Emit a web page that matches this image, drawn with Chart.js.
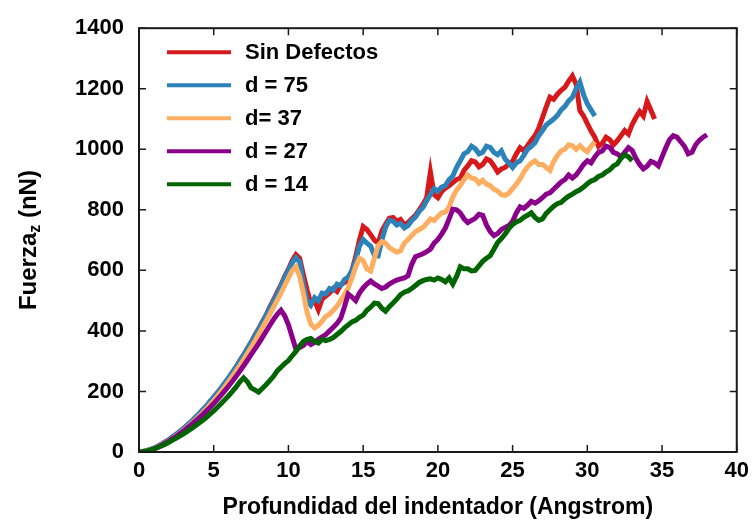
<!DOCTYPE html>
<html>
<head>
<meta charset="utf-8">
<script src="https://cdn.jsdelivr.net/npm/chart.js@4/dist/chart.umd.min.js"></script>
<style>
  html, body { margin: 0; padding: 0; background: #fff; }
</style>
</head>
<body>
<canvas id="forceChart" width="755" height="529"></canvas>
<script>
// =========================
// DATA (step 0.25 Angstrom)
// =========================
const depth = [
  0, 0.25, 0.5, 0.75, 1, 1.25, 1.5, 1.75, 2, 2.25, 2.5, 2.75, 3, 3.25, 3.5, 3.75, 4, 4.25, 4.5, 4.75,
  5, 5.25, 5.5, 5.75, 6, 6.25, 6.5, 6.75, 7, 7.25, 7.5, 7.75, 8, 8.25, 8.5, 8.75, 9, 9.25, 9.5, 9.75,
  10, 10.25, 10.5, 10.75, 11, 11.25, 11.5, 11.75, 12, 12.25, 12.5, 12.75, 13, 13.25, 13.5, 13.75, 14, 14.25, 14.5, 14.75,
  15, 15.25, 15.5, 15.75, 16, 16.25, 16.5, 16.75, 17, 17.25, 17.5, 17.75, 18, 18.25, 18.5, 18.75, 19, 19.25, 19.5, 19.75,
  20, 20.25, 20.5, 20.75, 21, 21.25, 21.5, 21.75, 22, 22.25, 22.5, 22.75, 23, 23.25, 23.5, 23.75, 24, 24.25, 24.5, 24.75,
  25, 25.25, 25.5, 25.75, 26, 26.25, 26.5, 26.75, 27, 27.25, 27.5, 27.75, 28, 28.25, 28.5, 28.75, 29, 29.25, 29.5, 29.75,
  30, 30.25, 30.5, 30.75, 31, 31.25, 31.5, 31.75, 32, 32.25, 32.5, 32.75, 33, 33.25, 33.5, 33.75, 34, 34.25, 34.5, 34.75,
  35, 35.25, 35.5, 35.75, 36, 36.25, 36.5, 36.75, 37, 37.25, 37.5, 37.75, 38
];

const seriesLabels = ["Sin Defectos", "d = 75", "d= 37", "d = 27", "d = 14"];
const seriesColors = ["#d7191c", "#2b83ba", "#fdae61", "#8b008b", "#006400"];

const sinDefectos = [
  0, 1, 4, 8, 12, 19, 25, 33, 40, 50, 58, 69, 78, 90, 100, 113, 124, 138, 150, 166,
  180, 196, 210, 228, 244, 263, 280, 302, 320, 342, 362, 386, 406, 430, 452, 479, 502, 528, 552, 580,
  604, 632, 652, 640, 585, 535, 490, 500, 470, 505, 515, 525, 540, 530, 552, 560, 568, 600, 645, 700,
  745, 735, 718, 700, 690, 730, 752, 772, 775, 762, 768, 750, 758, 770, 782, 800, 818, 840, 925, 850,
  840, 860, 872, 880, 890, 900, 905, 930, 945, 962, 958, 942, 950, 968, 962, 945, 925, 935, 940, 952,
  960, 985, 1005, 995, 1012, 1030, 1045, 1070, 1105, 1140, 1172, 1165, 1182, 1195, 1205, 1225, 1242, 1215, 1128, 1110,
  1085, 1060, 1040, 1010, 1020, 1040, 1032, 1015, 1028, 1045, 1062, 1050, 1082, 1105, 1125, 1110, 1158, 1130, 1100
];
const d75 = [
  0, 2, 5, 9, 13, 19, 26, 33, 41, 50, 59, 69, 79, 90, 101, 113, 126, 139, 152, 167,
  182, 196, 212, 229, 246, 264, 282, 301, 321, 341, 362, 384, 405, 428, 450, 475, 498, 523, 548, 575,
  600, 625, 642, 628, 555, 500, 485, 510, 500, 525, 522, 540, 535, 555, 550, 570, 578, 600, 632, 680,
  702, 690, 680, 650, 648, 700, 742, 765, 762, 750, 755, 740, 748, 765, 776, 795, 808, 830, 850, 870,
  862, 875, 880, 900, 912, 940, 962, 985, 992, 1010, 1002, 985, 990, 1010, 1006, 990, 982, 995, 968, 955,
  940, 955, 962, 980, 1000, 1010, 1022, 1045, 1062, 1080, 1090, 1100, 1112, 1130, 1142, 1160, 1172, 1200, 1222, 1180,
  1150, 1130, 1110
];
const d37 = [
  0, 2, 4, 7, 11, 17, 23, 30, 37, 45, 54, 63, 73, 83, 94, 105, 117, 129, 142, 156,
  170, 185, 200, 216, 233, 250, 268, 286, 305, 325, 345, 366, 388, 410, 432, 455, 478, 502, 525, 550,
  575, 600, 612, 580, 525, 460, 422, 410, 418, 432, 448, 455, 468, 482, 500, 520, 542, 575, 612, 640,
  632, 605, 598, 640, 682, 695, 690, 675, 668, 660, 665, 690, 702, 715, 728, 735, 742, 755, 770, 765,
  778, 790, 792, 810, 842, 865, 880, 900, 915, 905, 902, 888, 898, 885, 880, 868, 862, 850, 848, 855,
  870, 885, 902, 925, 942, 955, 962, 950, 950, 940, 930, 960, 980, 995, 1000, 1015, 1012, 1000, 1012, 1000,
  992, 1010, 1025
];
const d27 = [
  0, 1, 2, 6, 10, 16, 22, 29, 36, 44, 52, 61, 70, 80, 90, 101, 112, 123, 135, 147,
  160, 174, 188, 203, 218, 234, 250, 267, 285, 303, 322, 340, 358, 378, 398, 418, 438, 455, 468, 450,
  420, 380, 340, 345, 352, 365, 355, 362, 372, 380, 388, 400, 412, 425, 442, 480, 522, 512, 500, 525,
  542, 555, 565, 555, 548, 540, 545, 555, 562, 568, 572, 575, 582, 620, 645, 650, 655, 662, 670, 690,
  702, 720, 740, 770, 802, 800, 790, 770, 758, 765, 772, 785, 782, 750, 728, 715, 722, 735, 742, 748,
  762, 790, 810, 805, 815, 828, 822, 830, 840, 852, 856, 868, 880, 892, 900, 915, 905, 915, 932, 950,
  962, 955, 975, 990, 995, 1010, 1006, 990, 985, 975, 990, 1005, 996, 970, 950, 935, 944, 960, 955, 945,
  975, 1005, 1032, 1045, 1040, 1025, 1010, 985, 990, 1015, 1030, 1040, 1048
];
const d14 = [
  0, 1, 3, 6, 10, 15, 20, 26, 32, 39, 46, 53, 61, 69, 77, 86, 95, 104, 114, 125,
  136, 148, 160, 173, 186, 200, 215, 232, 245, 232, 212, 205, 198, 210, 222, 236, 250, 268, 280, 292,
  302, 318, 332, 350, 365, 372, 375, 365, 360, 372, 368, 372, 378, 388, 398, 410, 420, 430, 435, 445,
  452, 468, 478, 492, 490, 475, 465, 480, 492, 505, 520, 528, 532, 540, 550, 560, 566, 570, 572, 568,
  575, 570, 562, 575, 555, 580, 612, 605, 605, 598, 600, 615, 630, 640, 648, 670, 692, 705, 720, 738,
  752, 760, 765, 775, 782, 790, 775, 765, 770, 788, 800, 812, 820, 825, 836, 845, 852, 860, 866, 875,
  886, 895, 900, 910, 915, 925, 932, 945, 952, 970, 982, 975, 962
];

const xTicks = [0, 5, 10, 15, 20, 25, 30, 35, 40];
const yTicks = [0, 200, 400, 600, 800, 1000, 1200, 1400];

const allSeries = [sinDefectos, d75, d37, d27, d14];

// =========================
// BUILD DATASETS
// =========================
function toPoints(values) {
  return values.map((v, i) => ({ x: depth[i], y: v }));
}

const datasets = allSeries.map((values, i) => ({
  label: seriesLabels[i],
  data: toPoints(values),
  borderColor: seriesColors[i],
  backgroundColor: seriesColors[i],
  borderWidth: 5,
  pointRadius: 0,
  tension: 0,
  fill: false,
  order: allSeries.length - i   // later series drawn on top
}));

// =========================
// PLUGINS
// =========================
const FONT = "'Liberation Sans', Arial, sans-serif";

// box + inward ticks on all four sides
const framePlugin = {
  id: "frame",
  afterDatasetsDraw(chart) {
    const { ctx, chartArea: a, scales: { x, y } } = chart;
    ctx.save();
    ctx.strokeStyle = "#1a1a1a";
    ctx.lineWidth = 1.5;
    ctx.beginPath();
    xTicks.forEach(t => {
      const px = x.getPixelForValue(t);
      ctx.moveTo(px, a.bottom); ctx.lineTo(px, a.bottom - 7);
      ctx.moveTo(px, a.top); ctx.lineTo(px, a.top + 7);
    });
    yTicks.forEach(t => {
      const py = y.getPixelForValue(t);
      ctx.moveTo(a.left, py); ctx.lineTo(a.left + 7, py);
      ctx.moveTo(a.right, py); ctx.lineTo(a.right - 7, py);
    });
    ctx.stroke();
    ctx.lineWidth = 2;
    ctx.strokeRect(a.left, a.top, a.right - a.left, a.bottom - a.top);
    ctx.restore();
  }
};

// legend in the top-left corner of the plot
const legendPlugin = {
  id: "cornerLegend",
  afterDraw(chart) {
    const { ctx, chartArea: a } = chart;
    ctx.save();
    ctx.font = "bold 22px " + FONT;
    ctx.textBaseline = "middle";
    ctx.fillStyle = "#000";
    chart.data.datasets.forEach((ds, i) => {
      const rowY = a.top + 24 + i * 33;
      ctx.strokeStyle = ds.borderColor;
      ctx.lineWidth = 4;
      ctx.beginPath();
      ctx.moveTo(a.left + 28, rowY);
      ctx.lineTo(a.left + 92, rowY);
      ctx.stroke();
      ctx.fillText(ds.label, a.left + 106, rowY + 1);
    });
    ctx.restore();
  }
};

// y axis title with subscript z
const yTitlePlugin = {
  id: "yTitle",
  afterDraw(chart) {
    const { ctx, chartArea: a } = chart;
    const big = "bold 24px " + FONT;
    const small = "bold 16px " + FONT;
    ctx.save();
    ctx.font = big;
    const w1 = ctx.measureText("Fuerza").width;
    const w3 = ctx.measureText(" (nN)").width;
    ctx.font = small;
    const w2 = ctx.measureText("z").width;
    const total = w1 + w2 + w3;
    ctx.translate(29, (a.top + a.bottom) / 2);
    ctx.rotate(-Math.PI / 2);
    ctx.fillStyle = "#000";
    ctx.textBaseline = "middle";
    let cx = -total / 2;
    ctx.font = big;
    ctx.fillText("Fuerza", cx, 0);
    cx += w1;
    ctx.font = small;
    ctx.fillText("z", cx, 7);
    cx += w2;
    ctx.font = big;
    ctx.fillText(" (nN)", cx, 0);
    ctx.restore();
  }
};

// =========================
// RENDER CHART
// =========================
const ctx = document.getElementById("forceChart");

new Chart(ctx, {
  type: "line",
  data: { datasets },
  options: {
    responsive: false,
    animation: false,
    devicePixelRatio: 1,
    layout: { padding: { top: 18, right: 17, left: 0, bottom: 0 } },
    plugins: {
      legend: { display: false },
      tooltip: { enabled: false }
    },
    scales: {
      x: {
        type: "linear",
        min: 0,
        max: 40,
        afterFit: s => { s.height = 77; },
        afterBuildTicks: s => { s.ticks = xTicks.map(v => ({ value: v })); },
        grid: { display: false, drawTicks: false },
        border: { display: false },
        ticks: {
          color: "#000",
          padding: 6,
          maxRotation: 0,
          callback: v => String(v),
          font: { family: FONT, size: 22, weight: "bold" }
        },
        title: {
          display: true,
          text: "Profundidad del indentador (Angstrom)",
          color: "#000",
          padding: { top: 0, bottom: 8 },
          font: { family: FONT, size: 23, weight: "bold" }
        }
      },
      y: {
        type: "linear",
        min: 0,
        max: 1400,
        afterFit: s => { s.width = 139; },
        afterBuildTicks: s => { s.ticks = yTicks.map(v => ({ value: v })); },
        grid: { display: false, drawTicks: false },
        border: { display: false },
        ticks: {
          color: "#000",
          padding: 15,
          callback: v => String(v),
          font: { family: FONT, size: 22, weight: "bold" }
        }
      }
    }
  },
  plugins: [framePlugin, legendPlugin, yTitlePlugin]
});
</script>
</body>
</html>
